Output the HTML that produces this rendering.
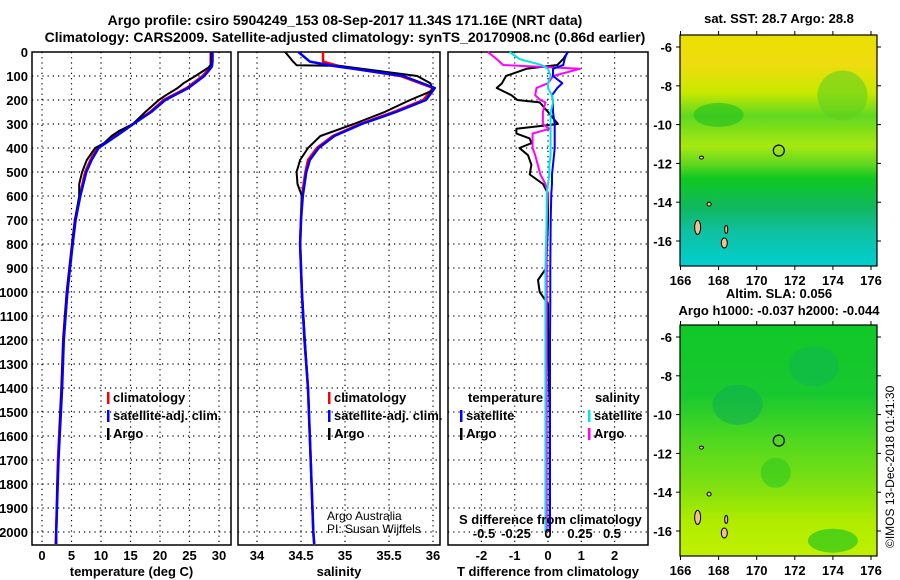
<!DOCTYPE html>
<html><head><meta charset="utf-8"><style>
body{margin:0;background:#fff;}
svg{display:block;font-family:"Liberation Sans",Arial,sans-serif;}
.t{font-weight:bold;font-size:14px;}
.tk{font-weight:bold;font-size:13px;}
.lg{font-size:13px;font-weight:bold;}
</style></head><body>
<svg id="c" width="900" height="580" viewBox="0 0 900 580">
<defs>
<linearGradient id="sst" x1="0" y1="0" x2="0" y2="1">
<stop offset="0" stop-color="#e8e000"/><stop offset="0.12" stop-color="#f0dc10"/>
<stop offset="0.25" stop-color="#c8e800"/><stop offset="0.35" stop-color="#60d820"/>
<stop offset="0.48" stop-color="#a8e810"/><stop offset="0.56" stop-color="#60d820"/>
<stop offset="0.62" stop-color="#10c820"/><stop offset="0.75" stop-color="#10b860"/>
<stop offset="0.85" stop-color="#10c0a0"/><stop offset="1" stop-color="#00d0d0"/>
</linearGradient>
<linearGradient id="sla" x1="0" y1="0" x2="0" y2="1">
<stop offset="0" stop-color="#10c828"/><stop offset="0.3" stop-color="#18c830"/>
<stop offset="0.5" stop-color="#50d820"/><stop offset="0.7" stop-color="#80e010"/>
<stop offset="0.85" stop-color="#b0ec00"/><stop offset="1" stop-color="#c0f000"/>
</linearGradient>
</defs>
<text class="t" x="345" y="25" text-anchor="middle">Argo profile: csiro 5904249_153 08-Sep-2017 11.34S 171.16E (NRT data)</text>
<text class="t" x="345" y="42" text-anchor="middle">Climatology: CARS2009. Satellite-adjusted climatology: synTS_20170908.nc (0.86d earlier)</text>
<g id="g"></g>
</svg>
<script>
var depthsClim = [0,40,60,70,100,150,200,250,300,350,400,450,500,600,700,800,1000,1200,1400,1500,1700,2000,2050];
var tempClim   = [28.6,28.6,28.6,28.3,27.2,24.5,20.6,18.3,15.4,12.4,9.3,8.2,7.3,6.4,5.6,5.1,4.2,3.6,3.3,3.1,2.7,2.4,2.3];
var tempSat    = [28.9,28.9,28.8,28.5,27.5,24.8,20.9,18.5,15.5,12.6,9.6,8.4,7.5,6.5,5.7,5.2,4.3,3.7,3.4,3.2,2.8,2.4,2.4];
var depthsArgo = [0,50,65,100,130,150,180,200,250,300,330,350,380,400,450,500,550,600,700,800,1000,1200,1400,1500,1700,1800,2000];
var tempArgo   = [28.7,28.7,28.2,26.0,24.0,23.0,21.0,19.8,17.5,15.4,13.0,11.8,10.5,9.0,7.6,6.8,6.3,6.3,5.6,5.1,4.2,3.6,3.3,3.1,2.8,2.6,2.4];
var salClim    = [34.75,34.75,34.95,35.1,35.63,36.0,35.89,35.55,35.17,34.86,34.68,34.58,34.55,34.51,34.5,34.49,34.51,34.54,34.58,34.59,34.61,34.64,34.65];
var salSat     = [34.47,34.6,34.9,35.1,35.66,36.02,35.92,35.58,35.19,34.88,34.7,34.6,34.56,34.52,34.5,34.49,34.51,34.54,34.58,34.59,34.61,34.64,34.65];
var depthsSalArgo = [0,40,55,58,100,130,160,200,250,300,350,400,450,500,550,600,800,1000,1400,2000];
var salArgo    = [34.32,34.41,34.45,34.94,35.82,35.97,36.0,35.74,35.45,35.1,34.72,34.58,34.49,34.45,34.46,34.51,34.49,34.51,34.58,34.64];
var depthsDiff = [0,30,54,70,100,130,150,180,200,210,250,300,320,340,360,380,400,430,470,510,550,590,700,900,950,1000,1050,1200,1500,2000];
var tDiffArgo  = [0.6,0.45,0.28,-0.65,-1.26,-1.38,-1.54,-1.1,-0.92,-0.25,0,0.3,-0.95,-0.95,-0.55,-0.5,-0.86,-0.6,-0.5,-0.55,-0.15,0,0,-0.05,-0.3,-0.25,0,0,0.05,0.05];
var sDiffArgo  = [-0.47,-0.4,-0.35,0.25,0.04,0,-0.09,-0.1,-0.06,-0.02,-0.04,-0.04,0.01,-0.12,-0.12,-0.12,-0.12,-0.1,-0.08,-0.06,-0.02,0,-0.01,-0.01,-0.01,-0.01,-0.01,-0.01,-0.01,-0.01];
var tDiffSat   = [0.58,0.5,0.46,0.15,0.15,0.43,0.28,0.12,0.14,0.15,0.15,0.2,0.2,0.2,0.2,0.2,0.2,0.18,0.15,0.12,0.12,0.1,0.08,0.07,0.07,0.07,0.07,0.06,0.06,0.06];
var sDiffSat   = [-0.3,-0.22,-0.05,0,0.02,0,0,0.03,0.04,0.04,0.02,0.02,0.02,0.02,0.02,0.02,0.02,0.02,0.01,0.01,0.0,-0.01,-0.01,-0.02,-0.02,-0.02,-0.02,-0.02,-0.02,-0.02];
var depthTicks = [0,100,200,300,400,500,600,700,800,900,1000,1100,1200,1300,1400,1500,1600,1700,1800,1900,2000];
var tempTicks = [0,5,10,15,20,25,30];
var salTicks = [34,34.5,35,35.5,36];
var tDiffTicks = [-2,-1,0,1,2];
var sDiffTicks = [-0.5,-0.25,0,0.25,0.5];
var lonTicks = [166,168,170,172,174,176];
var latTicks = [-6,-8,-10,-12,-14,-16];

var NS='http://www.w3.org/2000/svg', G=document.getElementById('g');
function el(tag,attrs,parent,txt){var e=document.createElementNS(NS,tag);for(var k in attrs)e.setAttribute(k,attrs[k]);if(txt!==undefined)e.textContent=txt;(parent||G).appendChild(e);return e;}
function yD(d){return 52+d*0.24;}
function xT(v){return 42+v*5.9;}
function xS(v){return 257+(v-34)*88;}
function xTd(v){return 548+v*33.3;}
function xSd(v){return 548+v*128;}
var TOP=52,BOT=545;
var panels=[[32,231],[238,440],[448,648]];
function dotted(x1,y1,x2,y2){var l=el('line',{x1:x1,y1:y1,x2:x2,y2:y2,stroke:'#000','stroke-width':1.2,'stroke-dasharray':'1.2 4'});}
function panel(i,xs,xfun,ticks,lab){
  var p=panels[i];
  depthTicks.forEach(function(d){ if(d>0) dotted(p[0],yD(d),p[1],yD(d)); });
  xs.forEach(function(v){ dotted(xfun(v),TOP,xfun(v),BOT); });
  var r=el('rect',{x:p[0],y:TOP,width:p[1]-p[0],height:BOT-TOP,fill:'none',stroke:'#000','stroke-width':1.5});
  
  
  if(ticks){ticks.forEach(function(v,j){var t=el('text',{x:xfun(v),y:560,'text-anchor':'middle','class':'tk'},G,String(v));
    
    });}
  if(lab){var t=el('text',{x:(p[0]+p[1])/2,y:576,'text-anchor':'middle','class':'tk'},G,lab);
    
    }
}
panel(0,tempTicks,xT,tempTicks,'temperature (deg C)');
panel(1,salTicks,xS,salTicks,'salinity');
panel(2,tDiffTicks,xTd,tDiffTicks,'T difference from climatology');
depthTicks.forEach(function(d){var t=el('text',{x:28,y:yD(d)+5,'text-anchor':'end','class':'tk'},G,String(d));
  
  });
function line(ds,vs,xf,col,name,w){
  var pts=ds.map(function(d,i){return xf(vs[i]).toFixed(1)+','+yD(d).toFixed(1);}).join(' ');
  var l=el('polyline',{points:pts,fill:'none',stroke:col,'stroke-width':w||2.5,'stroke-linejoin':'round'});
  
  
}
line(depthsClim,tempClim,xT,'#ff0000','temp-climatology-line');
line(depthsArgo,tempArgo,xT,'#000','temp-argo-line',2);
line(depthsClim,tempSat,xT,'#0000ff','temp-satellite-line');
line(depthsClim,salClim,xS,'#ff0000','sal-climatology-line');
line(depthsSalArgo,salArgo,xS,'#000','sal-argo-line',2);
line(depthsClim,salSat,xS,'#0000ff','sal-satellite-line');
line(depthsDiff,tDiffArgo,xTd,'#000','tdiff-argo-line',2);
line(depthsDiff,sDiffArgo,xSd,'#ff00ff','sdiff-argo-line',2);
line(depthsDiff,tDiffSat,xTd,'#0000ff','tdiff-satellite-line',2);
line(depthsDiff,sDiffSat,xSd,'#00e5e5','sdiff-satellite-line',2);
sDiffTicks.forEach(function(v){var t=el('text',{x:xSd(v),y:538,'text-anchor':'middle','class':'tk'},G,String(v));
  
  });
function leg(x,y,col,txt,name){
  var m=el('rect',{x:x,y:y-10,width:2.5,height:12,fill:col});
  
  
  var t=el('text',{x:x+6,y:y,'class':'lg'},G,txt);
  
  
}
leg(107,402,'#ff0000','climatology','legend-temp-climatology');
leg(107,420,'#0000ff','satellite-adj. clim.','legend-temp-satellite');
leg(107,438,'#000','Argo','legend-temp-argo');
leg(328,402,'#ff0000','climatology','legend-sal-climatology');
leg(328,420,'#0000ff','satellite-adj. clim.','legend-sal-satellite');
leg(328,438,'#000','Argo','legend-sal-argo');
leg(460,420,'#0000ff','satellite','legend-tdiff-satellite');
leg(460,438,'#000','Argo','legend-tdiff-argo');
leg(588,420,'#00e5e5','satellite','legend-sdiff-satellite');
leg(588,438,'#ff00ff','Argo','legend-sdiff-argo');
[['temperature',468,402,'legend-title-temperature'],['salinity',595,402,'legend-title-salinity'],['S difference from climatology',459,524,'s-diff-axis-title']].forEach(function(a){
  var t=el('text',{x:a[1],y:a[2],'class':'lg'},G,a[0]);
  
  });
var cr=el('text',{x:327,y:520,'font-size':'12px'},G,'Argo Australia');


var cr2=el('text',{x:327,y:533,'font-size':'12px'},G,'PI: Susan Wijffels');



function map(y0,grad,title1,title2,name,blobs){
  var x0=680,x1=877,h=231;
  function mx(lon){return 680.5+(lon-166)*19.05;}
  function my(lat){return y0+12+(-6-lat)*19.4;}
  var r=el('rect',{x:x0,y:y0,width:x1-x0,height:h,fill:'url(#'+grad+')'});
  
  
  blobs.forEach(function(b){
    var e=el('ellipse',{cx:mx(b[0]),cy:my(b[1]),rx:b[2],ry:b[3],fill:b[4],opacity:0.6});
    
    
  });
  [[166.9,-15.3,3,7],[168.3,-16.1,3,5],[167.5,-14.1,2,2],[168.4,-15.4,1.5,4],[167.1,-11.7,2,1.5]].forEach(function(a){
    var e=el('ellipse',{cx:mx(a[0]),cy:my(a[1]),rx:a[2],ry:a[3],fill:'#f5c090',stroke:'#000','stroke-width':1});
    
    
  });
  var c=el('circle',{cx:mx(171.16),cy:my(-11.34),r:5.5,fill:'none',stroke:'#000','stroke-width':1.2});
  
  
  var f=el('rect',{x:x0,y:y0,width:x1-x0,height:h,fill:'none',stroke:'#000','stroke-width':1.2});
  
  
  lonTicks.forEach(function(v){
    el('line',{x1:mx(v),y1:y0+h,x2:mx(v),y2:y0+h+4,stroke:'#000'});
    el('line',{x1:mx(v),y1:y0,x2:mx(v),y2:y0-4,stroke:'#000'});
    var t=el('text',{x:mx(v),y:y0+h+19,'text-anchor':'middle','class':'tk'},G,String(v));
    
    });
  latTicks.forEach(function(v){
    el('line',{x1:x0-4,y1:my(v),x2:x0,y2:my(v),stroke:'#000'});
    el('line',{x1:x1,y1:my(v),x2:x1+4,y2:my(v),stroke:'#000'});
    var t=el('text',{x:x0-8,y:my(v)+5,'text-anchor':'end','class':'tk'},G,String(v));
    
    });
  var t1=el('text',{x:779,y:title2?y0-27:y0-12,'text-anchor':'middle','class':'tk'},G,title1);
  
  
  if(title2){var t2=el('text',{x:779,y:y0-10,'text-anchor':'middle','class':'tk'},G,title2);
    
    }
}
map(35,'sst','sat. SST: 28.7 Argo: 28.8',null,'sst-map',[[174.5,-8.5,25,25,'#60d020'],[168,-9.5,25,12,'#20c020']]);
map(325,'sla','Altim. SLA: 0.056','Argo h1000: -0.037 h2000: -0.044','sla-map',[[169,-9.5,25,20,'#10b050'],[173,-7.5,25,20,'#10b850'],[174,-16.5,25,12,'#10c020'],[171,-13,15,15,'#30c820']]);
var cp=el('text',{x:0,y:0,'font-size':'12px',transform:'translate(894,548) rotate(-90)'},G,'©IMOS 13-Dec-2018 01:41:30');


</script>
</body></html>
